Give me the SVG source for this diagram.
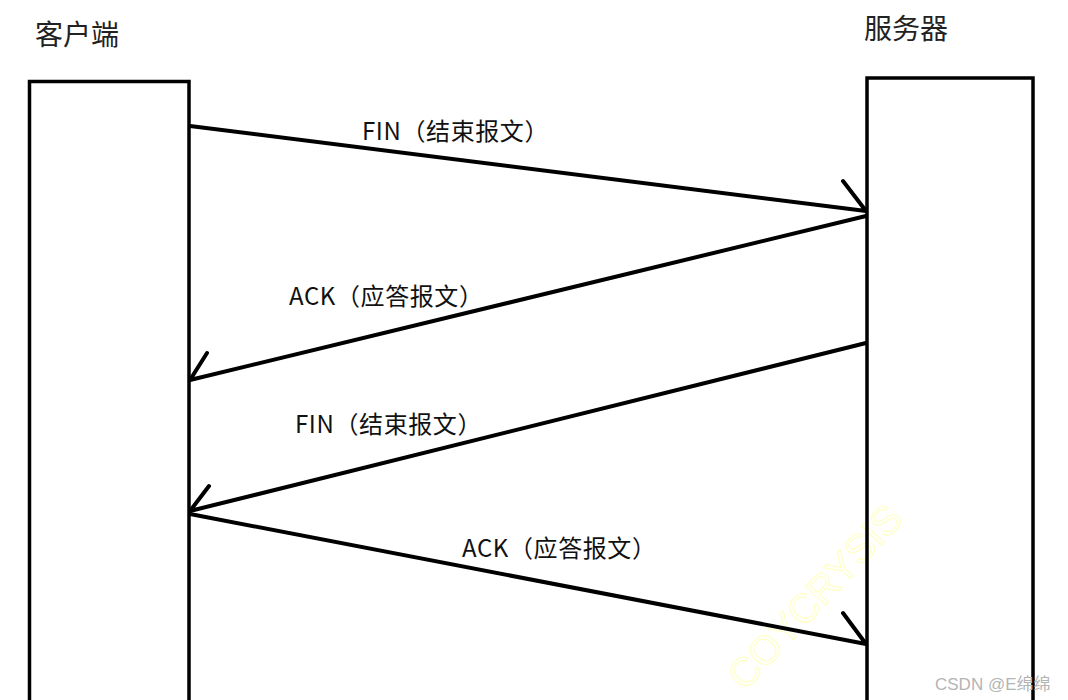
<svg xmlns="http://www.w3.org/2000/svg" width="1068" height="700" viewBox="0 0 1068 700">
<style>
.box{fill:none;stroke:#000;stroke-width:3.5}
.ln{fill:none;stroke:#000;stroke-width:4;stroke-linecap:round;stroke-linejoin:round}
.title{font-family:"Noto Sans CJK SC","Microsoft YaHei",sans-serif;font-size:28px;fill:#222}
.lbl{font-family:"Noto Sans CJK SC","Microsoft YaHei",sans-serif;font-size:24px;letter-spacing:0.6px;fill:#111}
.wm{font-family:"Liberation Sans","Noto Sans CJK SC",sans-serif;font-size:17px;fill:#b4b4b4}
.wm2{font-family:"Liberation Sans",sans-serif;font-size:40px;fill:none;stroke:#ffffc8;stroke-width:1.2}
</style>
<rect width="1068" height="700" fill="#fff"/>
<g id="watermark-bg">
<text class="wm2" transform="translate(745,692) rotate(-47)">COYCRYSIS</text>
</g>
<g id="client">
<rect class="box" x="29.5" y="81.5" width="159.5" height="640"/>
<text class="title" x="35" y="45">客户端</text>
</g>
<g id="server">
<rect class="box" x="867" y="78" width="166" height="640"/>
<text class="title" x="864" y="39">服务器</text>
</g>
<g id="connectors">
<path class="ln" d="M190,126 L866,211 M843,181 L866,211"/>
<path class="ln" d="M866,216 L190,380 M207,353 L190,380"/>
<path class="ln" d="M866,343 L190,511 M209,486 L190,511"/>
<path class="ln" d="M190,514 L866,644 M843,613 L866,644"/>
</g>
<g id="labels">
<text class="lbl" x="362" y="140">FIN（结束报文）</text>
<text class="lbl" x="289" y="305">ACK（应答报文）</text>
<text class="lbl" x="295" y="433">FIN（结束报文）</text>
<text class="lbl" x="462" y="557">ACK（应答报文）</text>
</g>
<g id="watermark">
<text class="wm" x="935" y="690">CSDN @E绵绵</text>
</g>
</svg>
